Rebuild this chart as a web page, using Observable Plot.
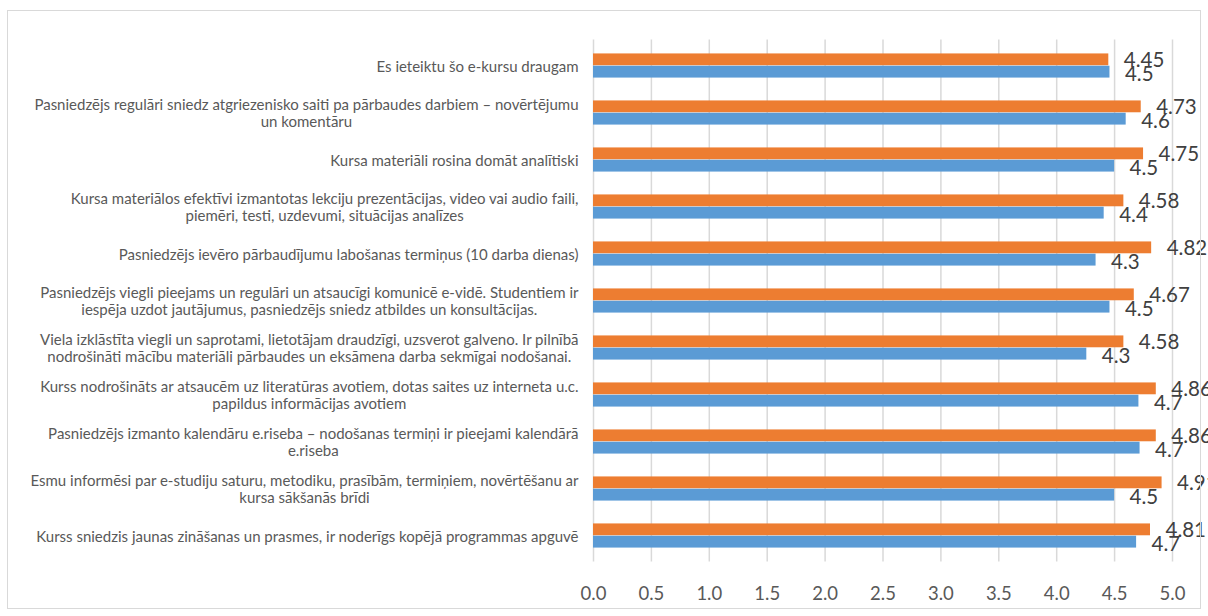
<!DOCTYPE html>
<html><head><meta charset="utf-8">
<script src="https://cdn.jsdelivr.net/npm/d3@7"></script>
<script src="https://cdn.jsdelivr.net/npm/@observablehq/plot@0.6"></script>
<style>
body{margin:0;background:#fff;}
#chart{position:absolute;left:0;top:0;}
#frame{position:absolute;left:7px;top:10px;width:1192px;height:597px;border:1px solid #d9d9d9;pointer-events:none;}
</style>
</head><body>
<div id="chart"></div><div id="frame"></div>
<script>
const categories = [
  "Es ieteiktu šo e-kursu draugam",
  "Pasniedzējs regulāri sniedz atgriezenisko saiti pa pārbaudes darbiem – novērtējumu\nun komentāru",
  "Kursa materiāli rosina domāt analītiski",
  "Kursa materiālos efektīvi izmantotas lekciju prezentācijas, video vai audio faili,\npiemēri, testi, uzdevumi, situācijas analīzes",
  "Pasniedzējs ievēro pārbaudījumu labošanas termiņus (10 darba dienas)",
  "Pasniedzējs viegli pieejams un regulāri un atsaucīgi komunicē e-vidē. Studentiem ir\niespēja uzdot jautājumus, pasniedzējs sniedz atbildes un konsultācijas.",
  "Viela izklāstīta viegli un saprotami, lietotājam draudzīgi, uzsverot galveno. Ir pilnībā\nnodrošināti mācību materiāli pārbaudes un eksāmena darba sekmīgai nodošanai.",
  "Kurss nodrošināts ar atsaucēm uz literatūras avotiem, dotas saites uz interneta u.c.\npapildus informācijas avotiem",
  "Pasniedzējs izmanto kalendāru e.riseba – nodošanas termiņi ir pieejami kalendārā\ne.riseba",
  "Esmu informēsi par e-studiju saturu, metodiku, prasībām, termiņiem, novērtēšanu ar\nkursa sākšanās brīdi",
  "Kurss sniedzis jaunas zināšanas un prasmes, ir noderīgs kopējā programmas apguvē"
];
const orangeValues = [4.45, 4.73, 4.75, 4.58, 4.82, 4.67, 4.58, 4.86, 4.86, 4.91, 4.81];
const orangeLabels = ["4.45", "4.73", "4.75", "4.58", "4.82", "4.67", "4.58", "4.86", "4.86", "4.91", "4.81"];
const blueValues = [4.46, 4.60, 4.50, 4.41, 4.34, 4.46, 4.26, 4.71, 4.72, 4.50, 4.69];
const blueLabels = ["4.5", "4.6", "4.5", "4.4", "4.3", "4.5", "4.3", "4.7", "4.7", "4.5", "4.7"];
const xTicks = [0, 0.5, 1, 1.5, 2, 2.5, 3, 3.5, 4, 4.5, 5];

const ORANGE = "#ED7D31", BLUE = "#5B9BD5";
const W = 1208, H = 616, mT = 39.5, mB = 54.5, mL = 593, mR = 36;
const band = (H - mT - mB) / categories.length;
const barH = 12.3;

const orangeData = categories.map((c, i) => ({cat: c, v: orangeValues[i], label: orangeLabels[i]}));
const blueData = categories.map((c, i) => ({cat: c, v: blueValues[i], label: blueLabels[i]}));

const plot = Plot.plot({
  width: W, height: H,
  marginTop: mT, marginBottom: mB, marginLeft: mL, marginRight: mR,
  style: {fontFamily: "Lato, 'Open Sans', sans-serif", background: "transparent"},
  x: {domain: [0, 5]},
  y: {domain: categories, padding: 0},
  marks: [
    Plot.gridX(xTicks, {stroke: "#d9d9d9", strokeOpacity: 1, strokeWidth: 1.5}),
    Plot.barX(orangeData, {x: "v", y: "cat", fill: ORANGE, insetTop: band / 2 - barH, insetBottom: band / 2}),
    Plot.barX(blueData, {x: "v", y: "cat", fill: BLUE, insetTop: band / 2, insetBottom: band / 2 - barH}),
    Plot.text(orangeData, {x: "v", y: "cat", text: "label", textAnchor: "start", dx: 15, dy: -barH / 2 + 1, fontSize: 20.5, fill: "#404040"}),
    Plot.text(blueData, {x: "v", y: "cat", text: "label", textAnchor: "start", dx: 15, dy: barH / 2 + 2, fontSize: 20.5, fill: "#404040"}),
    Plot.axisX(xTicks, {tickSize: 0, tickPadding: 25, tickFormat: d3.format(".1f"), fontSize: 18.5, color: "#595959", label: null}),
    Plot.axisY({tickSize: 0, tickPadding: 15, fontSize: 15, lineHeight: 1.15, color: "#595959", label: null})
  ]
});
document.getElementById("chart").appendChild(plot);

// center wrapped category labels as a block right-aligned to the axis
plot.querySelectorAll('g[aria-label="y-axis tick label"] text').forEach(t => {
  const spans = t.querySelectorAll("tspan");
  if (spans.length > 1) {
    let maxW = 0;
    spans.forEach(s => { maxW = Math.max(maxW, s.getComputedTextLength()); });
    t.setAttribute("text-anchor", "middle");
    spans.forEach(s => s.setAttribute("x", -maxW / 2));
  }
});
</script>
</body></html>
